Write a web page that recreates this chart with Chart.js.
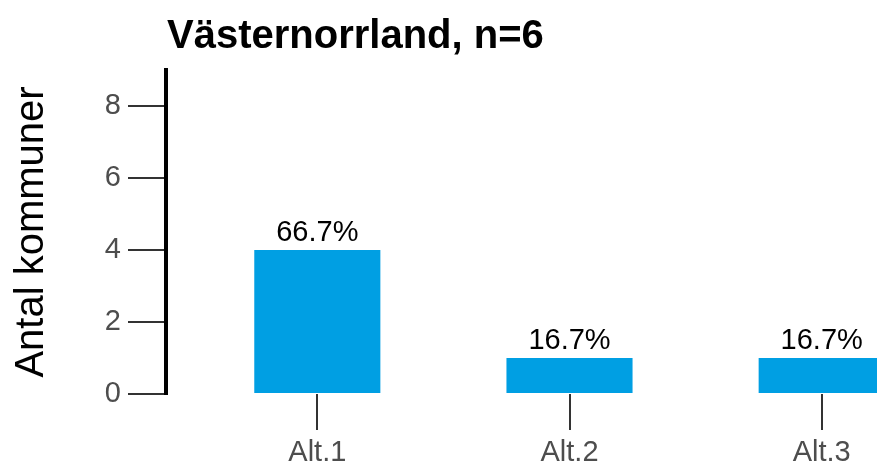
<!DOCTYPE html>
<html>
<head>
<meta charset="utf-8">
<script src="https://cdn.jsdelivr.net/npm/chart.js@4"></script>
<style>
    html, body { margin: 0; padding: 0; background: #fff; overflow: hidden; }
    #wrap { position: relative; width: 973px; height: 464px; }
</style>
</head>
<body>
<div id="wrap"><canvas id="barChart"></canvas></div>
<script>
const region = "Västernorrland";
const categories = ["Alt.1", "Alt.2", "Alt.3"];
const counts = [4, 1, 1];
const yTicks = [0, 2, 4, 6, 8];

const FONT = "'Liberation Sans', Arial, sans-serif";
const total = counts.reduce((a, b) => a + b, 0);

// title at the left edge of the plot area
const titlePlugin = {
    id: "leftTitle",
    afterDraw(chart) {
        const ctx = chart.ctx;
        ctx.save();
        ctx.font = "bold 40px " + FONT;
        ctx.fillStyle = "#000";
        ctx.textAlign = "left";
        ctx.textBaseline = "middle";
        ctx.fillText(region + ", n=" + total, chart.chartArea.left + 1, 37);
        ctx.restore();
    }
};

// share of total above each bar
const percentLabels = {
    id: "percentLabels",
    afterDatasetsDraw(chart) {
        const ctx = chart.ctx;
        const meta = chart.getDatasetMeta(0);
        ctx.save();
        ctx.font = "29px " + FONT;
        ctx.fillStyle = "#000";
        ctx.textAlign = "center";
        ctx.textBaseline = "bottom";
        meta.data.forEach((bar, i) => {
            const pct = (counts[i] / total * 100).toFixed(1) + "%";
            ctx.fillText(pct, bar.x, bar.y - 3);
        });
        ctx.restore();
    }
};

const ctx = document.getElementById("barChart").getContext("2d");

new Chart(ctx, {
    type: "bar",
    data: {
        datasets: [{
            data: counts.map((v, i) => ({ x: i + 1, y: v })),
            backgroundColor: "#009FE3",
            borderWidth: 0,
            categoryPercentage: 0.5,
            barPercentage: 1.0
        }]
    },
    options: {
        responsive: true,
        maintainAspectRatio: false,
        animation: false,
        layout: { padding: { top: 70, left: 0, right: 0, bottom: 0 } },
        plugins: {
            legend: { display: false },
            tooltip: { enabled: false }
        },
        scales: {
            x: {
                type: "linear",
                min: 0.4,
                max: 3.6,
                offset: false,
                afterBuildTicks(scale) {
                    scale.ticks = categories.map((c, i) => ({ value: i + 1 }));
                },
                afterFit(scale) { scale.height = 70; },
                grid: {
                    offset: false,
                    drawOnChartArea: false,
                    drawTicks: true,
                    tickLength: 36,
                    color: "#333",
                    lineWidth: 2
                },
                border: { display: false },
                ticks: {
                    padding: 6,
                    color: "#4D4D4D",
                    font: { family: FONT, size: 29 },
                    callback: (v) => categories[v - 1]
                }
            },
            y: {
                min: 0,
                max: 9,
                afterBuildTicks(scale) {
                    scale.ticks = yTicks.map(v => ({ value: v }));
                },
                afterFit(scale) { scale.width = 166; },
                grid: {
                    drawOnChartArea: false,
                    drawTicks: true,
                    tickLength: 38,
                    color: "#333",
                    lineWidth: 2
                },
                border: { display: true, color: "#000", width: 4 },
                ticks: {
                    padding: 7,
                    color: "#4D4D4D",
                    font: { family: FONT, size: 29 }
                },
                title: {
                    display: true,
                    text: "Antal kommuner",
                    color: "#000",
                    font: { family: FONT, size: 40 },
                    padding: { top: 8, bottom: 0 }
                }
            }
        }
    },
    plugins: [titlePlugin, percentLabels]
});
</script>
</body>
</html>
